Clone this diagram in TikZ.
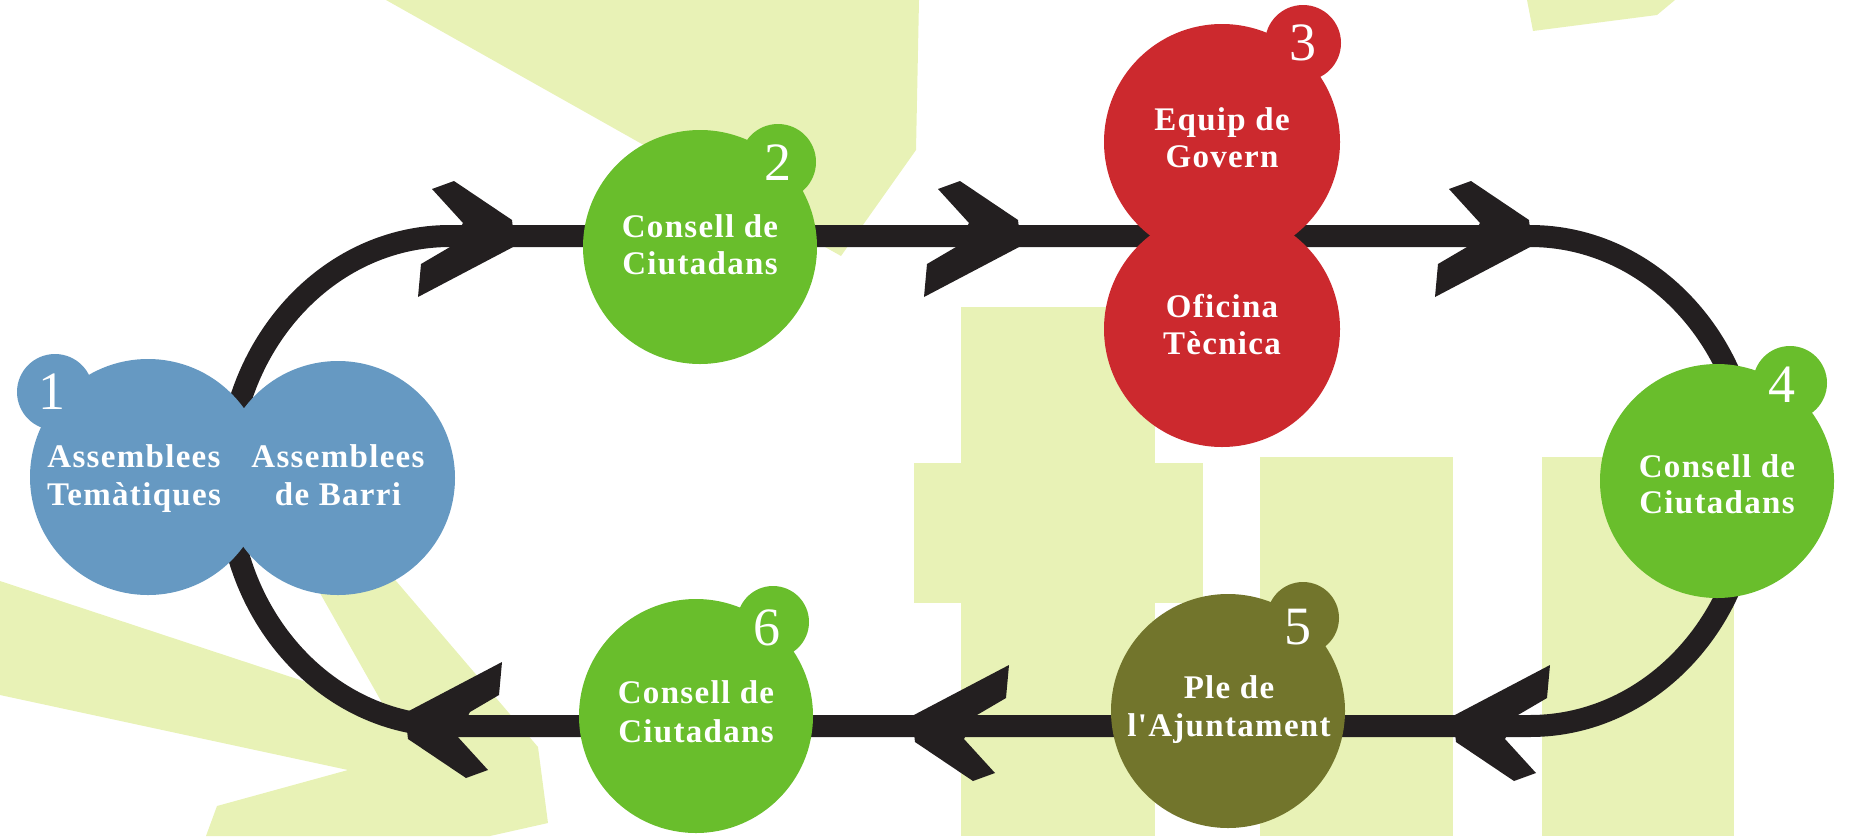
\documentclass[tikz,border=0pt]{standalone}
\usepackage{fontspec}
\setmainfont{Liberation Serif}
\newfontfamily\lblfont[LetterSpace=4.0]{Liberation Serif}
\definecolor{cblue}{RGB}{102,153,194}
\definecolor{cgreen}{RGB}{105,190,44}
\definecolor{cred}{RGB}{204,41,46}
\definecolor{colive}{RGB}{114,117,44}
\definecolor{ink}{RGB}{35,31,32}
\definecolor{bgy}{RGB}{232,242,182}
\begin{document}
\begin{tikzpicture}[x=1pt,y=-1pt,
  bg/.style={fill=bgy},
  loopline/.style={draw=ink, line width=22pt},
  lbl/.style={text=white, font={\lblfont\bfseries\fontsize{33}{37}\selectfont}, inner sep=0pt, anchor=base},
  num/.style={text=white, font={\fontsize{54}{54}\selectfont}, inner sep=0pt},
  bub/.style={circle, inner sep=0pt, minimum size=234pt},
  dot/.style={circle, inner sep=0pt, minimum size=76pt},
  chevr/.pic={\fill[ink] (-81,-47) -- (-59,-55) -- (-1,-16) -- (2,10) -- (-95,61) -- (-92,28) -- (-63,11) -- (-50,-13) -- cycle;}
]
\useasboundingbox (0,0) rectangle (1861,836);
% background shapes
\fill[bg] (386,0) -- (919,0) -- (916,150) -- (841,256) -- cycle;
\fill[bg] (1527,0) -- (1675,0) -- (1657,15) -- (1533,31) -- cycle;
\fill[bg] (961,307) rectangle (1155,836);
\fill[bg] (914,463) rectangle (1203,603);
\fill[bg] (1260,457) rectangle (1453,836);
\fill[bg] (1542,457) rectangle (1734,836);
\fill[bg] (0,581) -- (385,708) -- (290,540) -- (361,540) -- (538,747) -- (548,823) -- (490,836) -- (206,836) -- (217,806) -- (348,770) -- (0,695) -- cycle;
% loop
\coordinate (tl) at (450,236);
\coordinate (tr) at (1530,236);
\coordinate (br) at (1530,726);
\coordinate (bl) at (450,726);
\draw[loopline] (tl) -- (tr) arc[start angle=90, end angle=-90, x radius=222pt, y radius=245pt] -- (bl) arc[start angle=270, end angle=90, x radius=222pt, y radius=245pt] -- cycle;
\pic (a1) at (513,236) {chevr};
\pic (a2) at (1019,236) {chevr};
\pic (a3) at (1530,236) {chevr};
\pic[rotate=180] (a4) at (1455,726) {chevr};
\pic[rotate=180] (a5) at (914,726) {chevr};
\pic[rotate=180] (a6) at (407,723) {chevr};
% bubbles
\node[dot, fill=cblue] (d1) at (55,392) {};
\node[bub, fill=cblue, minimum size=236pt] (n1a) at (148,477) {};
\node[bub, fill=cblue] (n1b) at (338,478) {};
\node[dot, fill=cgreen] (d2) at (778,162) {};
\node[bub, fill=cgreen] (n2) at (700,247) {};
\node[dot, fill=cred] (d3) at (1303,43) {};
\node[bub, fill=cred, minimum size=236pt] (n3a) at (1222,142) {};
\node[bub, fill=cred, minimum size=236pt] (n3b) at (1222,329) {};
\node[dot, fill=cgreen, minimum size=74pt] (d4) at (1790,383) {};
\node[bub, fill=cgreen] (n4) at (1717,481) {};
\node[dot, fill=colive, minimum size=72pt] (d5) at (1303,618) {};
\node[bub, fill=colive] (n5) at (1228,711) {};
\node[dot, fill=cgreen, minimum size=72pt] (d6) at (773,622) {};
\node[bub, fill=cgreen] (n6) at (696,716) {};
% numbers
\node[num] (k1) at (52,392) {1};
\node[num] (k2) at (778,163) {2};
\node[num] (k3) at (1303,43) {3};
\node[num] (k4) at (1782,385) {4};
\node[num] (k5) at (1298,627) {5};
\node[num] (k6) at (767,628) {6};
% labels
\node[lbl] (t1a) at (134,467) {Assemblees};
\node[lbl] (t1b) at (134,505) {Temàtiques};
\node[lbl] (t1c) at (338,467) {Assemblees};
\node[lbl] (t1d) at (338,505) {de Barri};
\node[lbl] (t2a) at (700,237) {Consell de};
\node[lbl] (t2b) at (700,274) {Ciutadans};
\node[lbl] (t3a) at (1222,130) {Equip de};
\node[lbl] (t3b) at (1222,167) {Govern};
\node[lbl] (t3c) at (1222,317) {Oficina};
\node[lbl] (t3d) at (1222,354) {Tècnica};
\node[lbl] (t4a) at (1717,477) {Consell de};
\node[lbl] (t4b) at (1717,513) {Ciutadans};
\node[lbl] (t5a) at (1229,698) {Ple de};
\node[lbl] (t5b) at (1229,736) {l'Ajuntament};
\node[lbl] (t6a) at (696,703) {Consell de};
\node[lbl] (t6b) at (696,742) {Ciutadans};
\end{tikzpicture}
\end{document}
